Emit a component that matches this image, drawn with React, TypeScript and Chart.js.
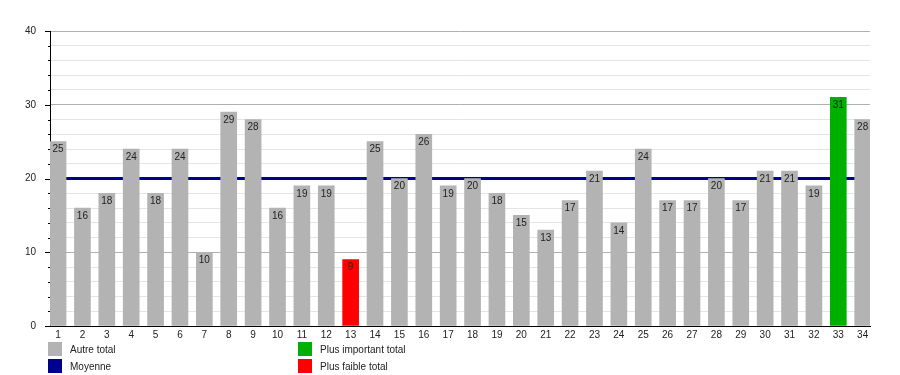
import React, { useEffect, useRef } from "react";
import { Chart, registerables } from "chart.js";

Chart.register(...registerables);

const categories: number[] = [
  1, 2, 3, 4, 5, 6, 7, 8, 9, 10, 11, 12, 13, 14, 15, 16, 17,
  18, 19, 20, 21, 22, 23, 24, 25, 26, 27, 28, 29, 30, 31, 32, 33, 34,
];
const totals: number[] = [
  25, 16, 18, 24, 18, 24, 10, 29, 28, 16, 19, 19, 9, 25, 20, 26, 19,
  20, 18, 15, 13, 17, 21, 14, 24, 17, 17, 20, 17, 21, 21, 19, 31, 28,
];
const MEAN = 20;
const Y_MIN = 0;
const Y_MAX = 40;
const Y_STEP = 2;
const Y_LABEL_STEP = 10;

const GRAY = "#b3b3b3";
const GREEN = "#00b000";
const RED = "#ff0000";
const NAVY = "#000090";

const legendItems = [
  { label: "Autre total", color: GRAY, col: 0, row: 0 },
  { label: "Moyenne", color: NAVY, col: 0, row: 1 },
  { label: "Plus important total", color: GREEN, col: 1, row: 0 },
  { label: "Plus faible total", color: RED, col: 1, row: 1 },
];

const FONT_FAMILY = "'Liberation Sans', Arial, sans-serif";
const TEXT_COLOR = "#222";

export default function App() {
  const ref = useRef<HTMLCanvasElement>(null);

  useEffect(() => {
    const maxV = Math.max(...totals);
    const minV = Math.min(...totals);
    const colors = totals.map((v) => (v === maxV ? GREEN : v === minV ? RED : GRAY));

    const meanLine = {
      id: "meanLine",
      beforeDatasetsDraw(chart: any) {
        const { ctx, chartArea, scales } = chart;
        const y = scales.y.getPixelForValue(MEAN);
        ctx.save();
        ctx.strokeStyle = NAVY;
        ctx.lineWidth = 3;
        ctx.beginPath();
        ctx.moveTo(chartArea.left, y);
        ctx.lineTo(chartArea.right, y);
        ctx.stroke();
        ctx.restore();
      },
    };

    const tickMarks = {
      id: "tickMarks",
      afterDraw(chart: any) {
        const { ctx, chartArea, scales } = chart;
        ctx.save();
        ctx.strokeStyle = "#000";
        ctx.lineWidth = 1;
        for (let v = Y_MIN; v <= Y_MAX; v += Y_STEP) {
          const y = Math.round(scales.y.getPixelForValue(v)) + 0.5;
          const len = v % Y_LABEL_STEP === 0 ? 5 : 2;
          ctx.beginPath();
          ctx.moveTo(chartArea.left - len, y);
          ctx.lineTo(chartArea.left, y);
          ctx.stroke();
        }
        ctx.restore();
      },
    };

    const valueLabels = {
      id: "valueLabels",
      afterDatasetsDraw(chart: any) {
        const { ctx } = chart;
        const meta = chart.getDatasetMeta(0);
        ctx.save();
        ctx.font = `10px ${FONT_FAMILY}`;
        ctx.fillStyle = TEXT_COLOR;
        ctx.textAlign = "center";
        ctx.textBaseline = "middle";
        meta.data.forEach((bar: any, i: number) => {
          ctx.fillText(String(totals[i]), bar.x, bar.y + 8);
        });
        ctx.restore();
      },
    };

    const chart = new Chart(ref.current!, {
      type: "bar",
      data: {
        datasets: [
          {
            label: "Autre total",
            data: categories.map((c, i) => ({ x: c, y: totals[i] })),
            backgroundColor: colors,
            borderWidth: 0,
            barThickness: 16,
          },
        ],
      },
      options: {
        animation: false,
        responsive: false,
        maintainAspectRatio: false,
        layout: { padding: { top: 31, right: 30, left: 0, bottom: 0 } },
        plugins: { legend: { display: false }, tooltip: { enabled: false } },
        scales: {
          x: {
            type: "linear",
            min: 0.67,
            max: 34.3,
            offset: false,
            grid: { display: false, drawTicks: false },
            border: { color: "#000", width: 1 },
            ticks: {
              stepSize: 1,
              includeBounds: false,
              autoSkip: false,
              maxRotation: 0,
              padding: 3,
              color: TEXT_COLOR,
              font: { size: 10, family: FONT_FAMILY },
              callback: (v: any) => String(v),
            },
            afterFit: (s: any) => {
              s.height = 49;
            },
          },
          y: {
            min: Y_MIN,
            max: Y_MAX,
            grid: {
              drawTicks: false,
              color: (ctx: any) =>
                ctx.tick && ctx.tick.value % Y_LABEL_STEP === 0 ? "#b0b0b0" : "#e4e4e4",
            },
            border: { color: "#000", width: 1 },
            ticks: {
              stepSize: Y_STEP,
              autoSkip: false,
              padding: 14,
              color: TEXT_COLOR,
              font: { size: 10, family: FONT_FAMILY },
              callback: (v: any) => (Number(v) % Y_LABEL_STEP === 0 ? String(v) : ""),
            },
            afterFit: (s: any) => {
              s.width = 50;
            },
          },
        },
      },
      plugins: [meanLine, tickMarks, valueLabels],
    });
    return () => chart.destroy();
  }, []);

  return (
    <div
      style={{
        position: "absolute",
        left: 0,
        top: 0,
        width: 900,
        height: 375,
        background: "#fff",
        fontFamily: FONT_FAMILY,
      }}
    >
      <canvas ref={ref} width={900} height={375} style={{ display: "block" }} />
      {legendItems.map((it) => (
        <div
          key={it.label}
          style={{
            position: "absolute",
            left: it.col === 0 ? 48 : 298,
            top: 342 + it.row * 17,
            height: 14,
            display: "flex",
            alignItems: "center",
            fontSize: 10,
            color: TEXT_COLOR,
            whiteSpace: "nowrap",
          }}
        >
          <span
            style={{
              display: "inline-block",
              width: 14,
              height: 14,
              background: it.color,
              marginRight: 8,
            }}
          />
          <span>{it.label}</span>
        </div>
      ))}
    </div>
  );
}
